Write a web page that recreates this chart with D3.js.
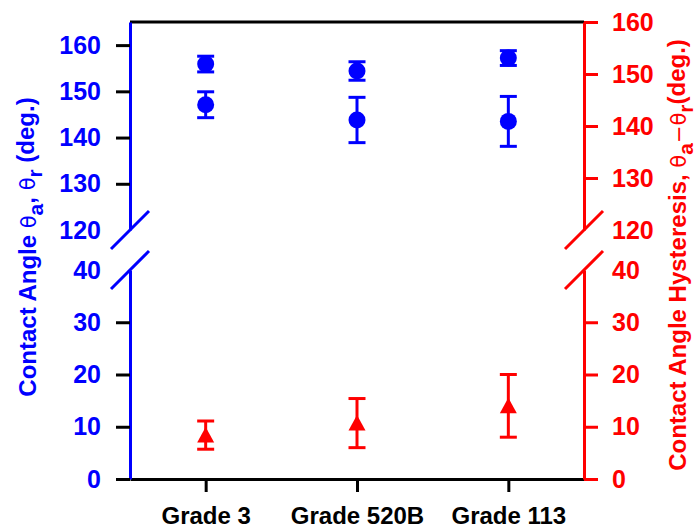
<!DOCTYPE html>
<html>
<head>
<meta charset="utf-8">
<script src="https://cdn.jsdelivr.net/npm/d3@7"></script>
<style>
  html, body { margin: 0; padding: 0; background: #fff; }
  svg { display: block; }
  text { font-family: "Liberation Sans", Arial, Helvetica, sans-serif; font-weight: bold; }
</style>
</head>
<body>
<svg id="chart" width="696" height="531"></svg>
<script>
// ---- data ----
const categories = ["Grade 3", "Grade 520B", "Grade 113"];
const advancing = [155.9, 154.4, 157.2];
const advancingErr = [1.7, 2.0, 1.6];
const receding = [147.1, 143.8, 143.5];
const recedingErr = [2.8, 4.9, 5.4];
const hysteresis = [8.4, 10.7, 14.0];
const hysteresisErr = [2.7, 4.7, 6.0];
const leftUpperTicks = [120, 130, 140, 150, 160];
const rightUpperTicks = [120, 130, 140, 150, 160];
const lowerTicks = [0, 10, 20, 30, 40];

// ---- layout ----
const L = 130, R = 584, T = 22, B = 479;
const upperBottom = 230, lowerTop = 270;
const blue = "#0000ff", red = "#ff0000";

const svg = d3.select("#chart");

const x = d3.scalePoint().domain(categories).range([L, R]).padding(0.5);
const yLU = d3.scaleLinear().domain([120, 165]).range([upperBottom, T]);
const yRU = d3.scaleLinear().domain([120, 160]).range([upperBottom, T]);
const yLow = d3.scaleLinear().domain([0, 40]).range([B, lowerTop]);

// top frame line
svg.append("line").attr("x1", L).attr("x2", R).attr("y1", T).attr("y2", T)
  .attr("stroke", "#000").attr("stroke-width", 3);

// bottom axis
const gx = svg.append("g").attr("transform", `translate(0,${B})`)
  .call(d3.axisBottom(x).tickSize(13).tickSizeOuter(0).tickPadding(15));
gx.select(".domain").attr("stroke", "#000").attr("stroke-width", 3);
gx.selectAll(".tick line").attr("stroke", "#000").attr("stroke-width", 3);
gx.selectAll(".tick text").attr("fill", "#000").style("font-size", "24px")
  .style("font-family", "'Liberation Sans', Arial, sans-serif").style("font-weight", "bold");

function styleAxis(g, color, tickColor, breakVal) {
  g.select(".domain").attr("stroke", color).attr("stroke-width", 3);
  g.selectAll(".tick line").attr("stroke", tickColor).attr("stroke-width", 3);
  g.selectAll(".tick").filter(d => d === breakVal).select("line").remove();
  g.selectAll(".tick text").attr("fill", color).style("font-size", "25px")
    .style("font-family", "'Liberation Sans', Arial, sans-serif").style("font-weight", "bold");
}

// left axes
const gLU = svg.append("g").attr("transform", `translate(${L},0)`)
  .call(d3.axisLeft(yLU).tickValues(leftUpperTicks).tickFormat(d3.format("d")).tickSize(14).tickSizeOuter(0).tickPadding(15));
styleAxis(gLU, blue, "#000", 120);
const gLL = svg.append("g").attr("transform", `translate(${L},0)`)
  .call(d3.axisLeft(yLow).tickValues(lowerTicks).tickFormat(d3.format("d")).tickSize(14).tickSizeOuter(0).tickPadding(15));
styleAxis(gLL, blue, "#000", 40);

// right axes
const gRU = svg.append("g").attr("transform", `translate(${R},0)`)
  .call(d3.axisRight(yRU).tickValues(rightUpperTicks).tickFormat(d3.format("d")).tickSize(14).tickSizeOuter(0).tickPadding(14));
styleAxis(gRU, red, red, 120);
const gRL = svg.append("g").attr("transform", `translate(${R},0)`)
  .call(d3.axisRight(yLow).tickValues(lowerTicks).tickFormat(d3.format("d")).tickSize(14).tickSizeOuter(0).tickPadding(14));
styleAxis(gRL, red, red, 40);

// break slashes
function slash(cx, cy, color) {
  svg.append("line").attr("x1", cx - 19).attr("y1", cy + 19).attr("x2", cx + 19).attr("y2", cy - 19)
    .attr("stroke", color).attr("stroke-width", 3);
}
slash(L, yLU(120), blue);
slash(L, yLow(40), blue);
slash(R, yRU(120), red);
slash(R, yLow(40), red);

// error bars helper
function errorBars(vals, errs, yScale, color) {
  const g = svg.append("g").attr("stroke", color).attr("stroke-width", 3);
  categories.forEach((c, i) => {
    const cx = x(c), y0 = yScale(vals[i] - errs[i]), y1 = yScale(vals[i] + errs[i]);
    g.append("line").attr("x1", cx).attr("x2", cx).attr("y1", y0).attr("y2", y1);
    g.append("line").attr("x1", cx - 8.5).attr("x2", cx + 8.5).attr("y1", y0).attr("y2", y0);
    g.append("line").attr("x1", cx - 8.5).attr("x2", cx + 8.5).attr("y1", y1).attr("y2", y1);
  });
}
errorBars(advancing, advancingErr, yLU, blue);
errorBars(receding, recedingErr, yLU, blue);
errorBars(hysteresis, hysteresisErr, yLow, red);

// circles
svg.append("g").selectAll("circle").data(advancing.concat(receding)).join("circle")
  .attr("cx", (d, i) => x(categories[i % categories.length])).attr("cy", d => yLU(d)).attr("r", 8.5).attr("fill", blue);

// triangles
svg.append("g").selectAll("path").data(hysteresis).join("path")
  .attr("transform", (d, i) => `translate(${x(categories[i])},${yLow(d)})`)
  .attr("d", "M0,-8 L8.5,7.5 L-8.5,7.5 Z").attr("fill", red);

// axis titles
function title(tx, ty, color, parts) {
  const t = svg.append("text").attr("transform", `translate(${tx},${ty}) rotate(-90)`)
    .attr("text-anchor", "middle").attr("fill", color).style("font-size", "24px");
  parts.forEach(p => {
    const s = t.append("tspan").text(p.t);
    if (p.theta) s.style("font-weight", "normal").style("font-family", "'DejaVu Sans', sans-serif").style("font-size", "21px");
    if (p.sub) s.attr("dy", "0.35em").style("font-size", "21px");
    if (p.back) s.attr("dy", "-0.35em");
  });
}
title(36, 247, blue, [
  {t: "Contact Angle "}, {t: "θ", theta: true}, {t: "a", sub: true},
  {t: ", ", back: true}, {t: "θ", theta: true}, {t: "r", sub: true}, {t: " (deg.)", back: true}
]);
title(686, 255, red, [
  {t: "Contact Angle Hysteresis, "}, {t: "θ", theta: true}, {t: "a", sub: true},
  {t: "−θ", theta: true, back: true}, {t: "r", sub: true}, {t: "(deg.)", back: true}
]);
</script>
</body>
</html>
